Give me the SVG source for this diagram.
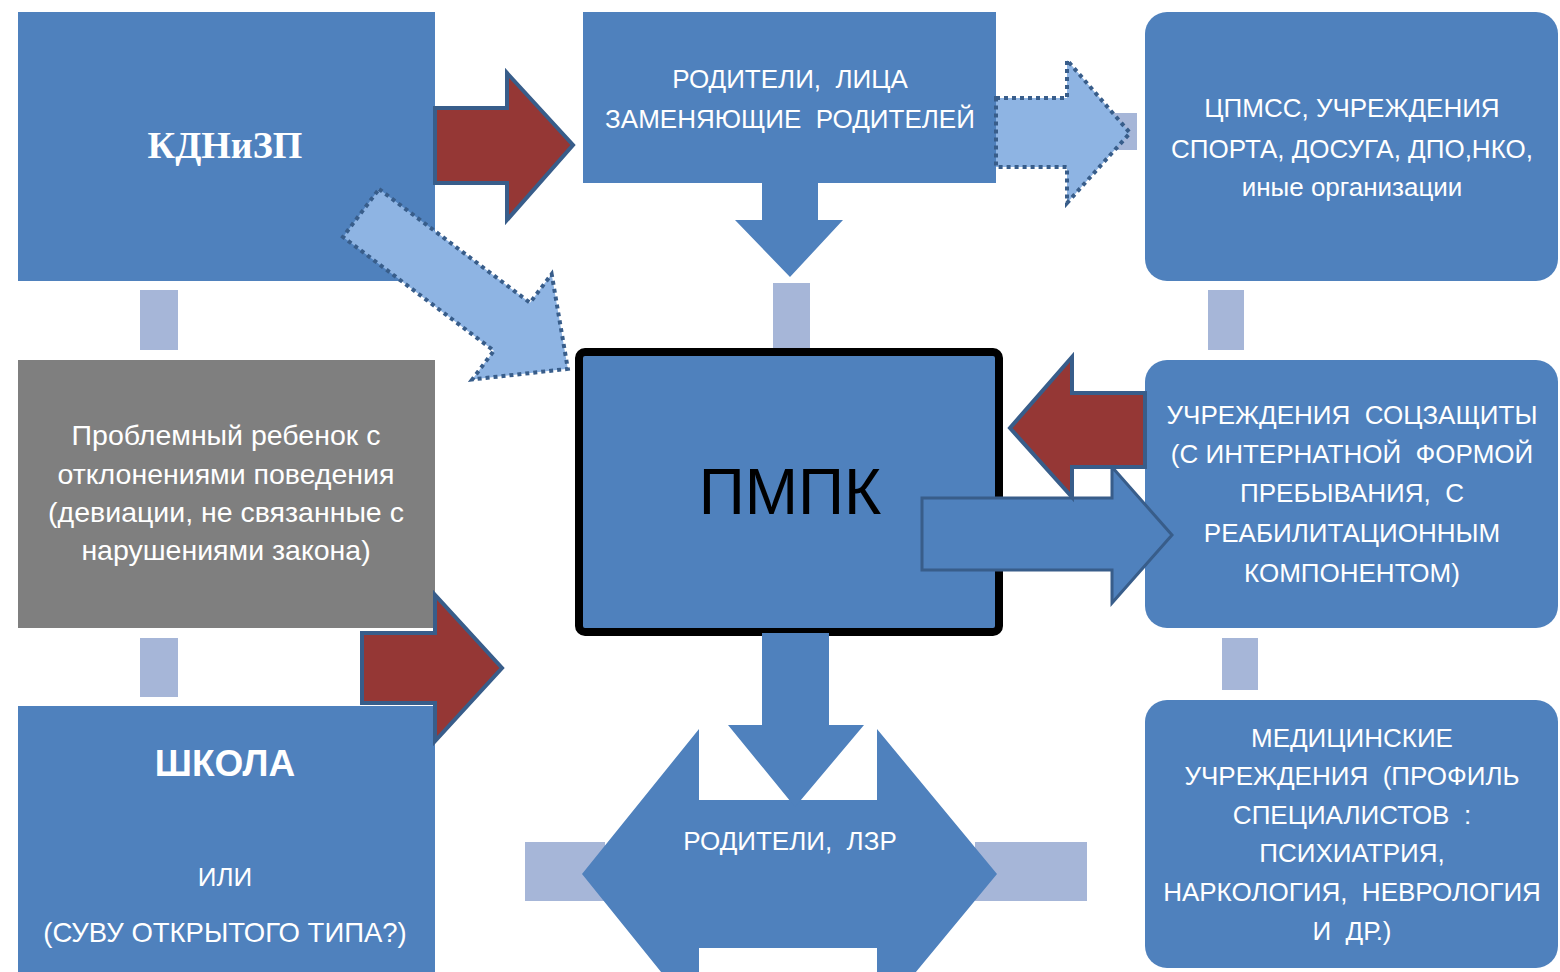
<svg xmlns="http://www.w3.org/2000/svg" width="1560" height="972" viewBox="0 0 1560 972">
  <style>
    .box { fill: #4f81bd; }
    .grey { fill: #7f7f7f; }
    .link { fill: #a6b6d8; }
    .lbl { font-family: "Liberation Sans", Arial, sans-serif; fill: #ffffff; text-anchor: middle; font-size: 26px; white-space: pre; }
    .child { font-size: 28.5px; }
    .big { font-size: 37px; font-weight: bold; }
    .red { fill: #953735; stroke: #385d8a; stroke-width: 4; stroke-linejoin: miter; }
    .dot { fill: #8eb4e3; stroke: #385d8a; stroke-width: 4; stroke-dasharray: 4 4; }
    .blue { fill: #4f81bd; stroke: #385d8a; stroke-width: 3; }
    .plain { fill: #4f81bd; }
  </style>
  <rect width="1560" height="972" fill="#ffffff"/>

  <!-- short connector bars between blocks -->
  <g id="connectors">
    <rect class="link" x="140" y="290" width="38" height="60"/>
    <rect class="link" x="140" y="638" width="38" height="59"/>
    <rect class="link" x="773" y="283" width="37" height="67"/>
    <rect class="link" x="1208" y="290" width="36" height="60"/>
    <rect class="link" x="1222" y="638" width="36" height="52"/>
    <rect class="link" x="1090" y="113" width="47" height="37"/>
    <rect class="link" x="525" y="842" width="80" height="59"/>
    <rect class="link" x="975" y="842" width="112" height="59"/>
  </g>

  <g id="kdnizp">
    <rect class="box" x="18" y="12" width="417" height="269"/>
    <text x="225" y="158" font-family="Liberation Serif, serif" font-weight="bold" font-size="38" fill="#ffffff" text-anchor="middle">КДНиЗП</text>
  </g>

  <g id="child">
    <rect class="grey" x="18" y="360" width="417" height="268"/>
    <text class="lbl child" x="226" y="445">Проблемный ребенок с</text>
    <text class="lbl child" x="226" y="484">отклонениями поведения</text>
    <text class="lbl child" x="226" y="522">(девиации, не связанные с</text>
    <text class="lbl child" x="226" y="560">нарушениями закона)</text>
  </g>

  <g id="school">
    <rect class="box" x="18" y="706" width="417" height="266"/>
    <text class="lbl big" x="225" y="776">ШКОЛА</text>
    <text class="lbl" x="225" y="886">ИЛИ</text>
    <text class="lbl" x="225" y="942" style="font-size:27.5px">(СУВУ ОТКРЫТОГО ТИПА?)</text>
  </g>

  <g id="parents-top">
    <rect class="box" x="583" y="12" width="413" height="171"/>
    <text class="lbl" x="790" y="88">РОДИТЕЛИ,  ЛИЦА</text>
    <text class="lbl" x="790" y="128">ЗАМЕНЯЮЩИЕ  РОДИТЕЛЕЙ</text>
  </g>

  <g id="leisure">
    <rect class="box" x="1145" y="12" width="413" height="269" rx="22"/>
    <text class="lbl" x="1352" y="117">ЦПМСС, УЧРЕЖДЕНИЯ</text>
    <text class="lbl" x="1352" y="158">СПОРТА, ДОСУГА, ДПО,НКО,</text>
    <text class="lbl" x="1352" y="196">иные организации</text>
  </g>

  <g id="social">
    <rect class="box" x="1145" y="360" width="413" height="268" rx="22"/>
    <text class="lbl" x="1352" y="424">УЧРЕЖДЕНИЯ  СОЦЗАЩИТЫ</text>
    <text class="lbl" x="1352" y="463">(С ИНТЕРНАТНОЙ  ФОРМОЙ</text>
    <text class="lbl" x="1352" y="502">ПРЕБЫВАНИЯ,  С</text>
    <text class="lbl" x="1352" y="542">РЕАБИЛИТАЦИОННЫМ</text>
    <text class="lbl" x="1352" y="582">КОМПОНЕНТОМ)</text>
  </g>

  <g id="medical">
    <rect class="box" x="1145" y="700" width="413" height="268" rx="22"/>
    <text class="lbl" x="1352" y="747">МЕДИЦИНСКИЕ</text>
    <text class="lbl" x="1352" y="785">УЧРЕЖДЕНИЯ  (ПРОФИЛЬ</text>
    <text class="lbl" x="1352" y="824">СПЕЦИАЛИСТОВ  :</text>
    <text class="lbl" x="1352" y="862">ПСИХИАТРИЯ,</text>
    <text class="lbl" x="1352" y="901">НАРКОЛОГИЯ,  НЕВРОЛОГИЯ</text>
    <text class="lbl" x="1352" y="940">И  ДР.)</text>
  </g>

  <g id="pmpk">
    <rect x="579" y="352" width="420" height="280" rx="6" fill="#4f81bd" stroke="#000000" stroke-width="8"/>
    <text x="790" y="514" font-family="Liberation Sans, Arial, sans-serif" font-size="64" fill="#000000" text-anchor="middle">ПМПК</text>
  </g>

  <!-- block arrows -->
  <g id="arrows">
    <!-- parents, both ways -->
    <polygon class="plain" points="582,874 699,729 699,800 877,800 877,729 997,874 877,1019 877,948 699,948 699,1019"/>
    <text class="lbl" x="790" y="850">РОДИТЕЛИ,  ЛЗР</text>
    <!-- ПМПК down to parents -->
    <polygon class="plain" points="762,633 829,633 829,725 864,725 795,807 728,725 762,725"/>
    <!-- parents (top) down to ПМПК -->
    <polygon class="plain" points="762,183 818,183 818,220 843,220 790,277 735,220 762,220"/>
    <!-- КДНиЗП to parents -->
    <polygon class="red" points="435,108 507,108 507,73 573,145 507,220 507,183 435,183"/>
    <!-- child to ПМПК -->
    <polygon class="red" points="362,633 435,633 435,595 502,668 435,741 435,703 362,703"/>
    <!-- ПМПК to social protection -->
    <polygon class="blue" points="922,498 1112,498 1112,467 1172,535 1112,603 1112,570 922,570"/>
    <!-- social protection to ПМПК -->
    <polygon class="red" points="1145,393 1072,393 1072,357 1010,428 1072,497 1072,467 1145,467"/>
    <!-- parents to leisure organisations -->
    <polygon class="dot" points="996,98 1067,98 1067,60 1130,133 1067,203 1067,167 996,167"/>
    <!-- КДНиЗП to ПМПК -->
    <polygon class="dot" transform="translate(361,213) rotate(37)" points="0,-30 189,-30 189,-66 259,0 189,66 189,30 0,30"/>
  </g>
</svg>
